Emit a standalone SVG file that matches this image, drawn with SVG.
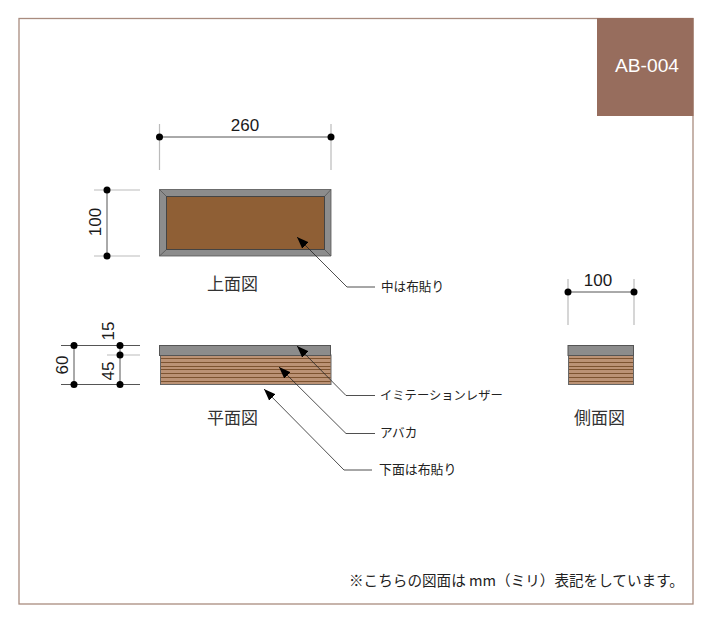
<svg xmlns="http://www.w3.org/2000/svg" width="712" height="622" viewBox="0 0 712 622">
<style>
.l{font-family:"Liberation Sans",Arial,sans-serif;fill:#1a1a1a}
.j{font-family:"Noto Sans CJK JP","Noto Sans CJK SC",sans-serif;fill:#222}
.d{font-size:17px;text-anchor:middle}
.t{font-size:17px;text-anchor:middle;fill:#333}
.s{font-size:12.600px}
.dim{stroke:#555;stroke-width:1;fill:none}
.ext{stroke:#bbb;stroke-width:1.2;fill:none}
.lead{stroke:#222;stroke-width:.8;fill:none;marker-start:url(#a)}
.dot{fill:#000}
.g{fill:#8c8c8c;stroke:#555;stroke-width:1}
.w{fill:#bb9275;stroke:#666;stroke-width:1}
.st{stroke:#7d5330;stroke-width:1;fill:none}
</style>
<defs>
<marker id="a" viewBox="0 0 12 10" refX="0" refY="5" markerWidth="12" markerHeight="10" markerUnits="userSpaceOnUse" orient="auto"><path d="M12 0.500L12 9.500L0 5Z" fill="#000"/></marker>
</defs>
<rect width="712" height="622" fill="#fff"/>
<rect id="frame" x="19" y="18.500" width="674" height="585.500" fill="none" stroke="#a98c7f" stroke-width="1.300"/>
<g id="tag"><rect x="597" y="18" width="96.500" height="98" fill="#976d5d"/><text class="l" x="647" y="71.500" font-size="19.200" text-anchor="middle" style="fill:#fff">AB-004</text></g>

<g id="top-view">
<rect x="159.500" y="189.500" width="171.500" height="66.500" fill="#8c8c8c"/>
<path d="M159.500 189.500H331V256H159.500ZM159.500 189.500L166.500 196.500M331 189.500L324.500 196.500M159.500 256L166.500 249.500M331 256L324.500 249.500" fill="none" stroke="#555" stroke-width=".8"/>
<rect x="166.500" y="196.500" width="158" height="53" fill="#8f5f35" stroke="#444" stroke-width="1"/>
<text class="j t" x="232.500" y="290">上面図</text>
</g>
<g id="top-dim-260">
<path class="ext" d="M159.500 124V170M331 124V170"/><path class="dim" d="M159.500 137H331"/>
<circle class="dot" cx="159.500" cy="137" r="3.500"/><circle class="dot" cx="331" cy="137" r="3.500"/>
<text class="l d" x="245" y="131">260</text>
</g>
<g id="top-dim-100">
<path class="ext" d="M94 190H140M94 256H140"/><path class="dim" d="M107 190V256"/>
<circle class="dot" cx="107" cy="190" r="3.500"/><circle class="dot" cx="107" cy="256" r="3.500"/>
<text class="l d" transform="translate(101 222) rotate(-90)">100</text>
</g>

<g id="plan-view">
<rect class="w" x="160.500" y="355" width="170.500" height="29.500"/>
<path class="st" d="M161 358.500H330.500M161 362.500H330.500M161 366.500H330.500M161 369.500H330.500M161 373.500H330.500M161 377.500H330.500M161 381.500H330.500"/>
<rect class="g" x="159.500" y="345.500" width="171" height="10"/>
<text class="j t" x="232.500" y="424">平面図</text>
</g>
<g id="plan-dims">
<path class="dim" d="M61 345.500H140M61 384.500H140M74 345.500V384.500M120 345.500V384.500"/><path class="ext" d="M107 355H140"/>
<circle class="dot" cx="74" cy="345.500" r="3.500"/><circle class="dot" cx="74" cy="384.500" r="3.500"/>
<circle class="dot" cx="120" cy="345.500" r="3.500"/><circle class="dot" cx="120" cy="355" r="3.500"/><circle class="dot" cx="120" cy="384.500" r="3.500"/>
<text class="l d" transform="translate(68 365) rotate(-90)">60</text>
<text class="l d" transform="translate(114 331) rotate(-90)">15</text>
<text class="l d" transform="translate(114 371) rotate(-90)">45</text>
</g>

<g id="side-view">
<rect class="w" x="568.500" y="355" width="65" height="29.500"/>
<path class="st" d="M569 358.500H633M569 362.500H633M569 366.500H633M569 369.500H633M569 373.500H633M569 377.500H633M569 381.500H633"/>
<rect class="g" x="568" y="345.500" width="65.500" height="10"/>
<text class="j t" x="599.500" y="424">側面図</text>
</g>
<g id="side-dim-100">
<path class="ext" d="M568 279V325M634 279V325"/><path class="dim" d="M568 292H634"/>
<circle class="dot" cx="568" cy="292" r="3.500"/><circle class="dot" cx="634" cy="292" r="3.500"/>
<text class="l d" x="598" y="286">100</text>
</g>

<g id="connectors">
<path class="lead" d="M297 237L347 287H375"/>
<path class="lead" d="M297 346L346 395.500H375"/>
<path class="lead" d="M279 367L346 433.500H375"/>
<path class="lead" d="M264 389L344 470H372"/>
</g>
<g id="labels">
<text class="j s" x="381" y="290.500">中は布貼り</text>
<text class="j s" x="380" y="399.500" style="font-size:12.300px">イミテーションレザー</text>
<text class="j s" x="380" y="437">アバカ</text>
<text class="j s" x="379" y="474" style="font-size:12.900px">下面は布貼り</text>
</g>
<text id="note" class="j" x="349" y="586" font-size="14.600">※こちらの図面は mm（ミリ）表記をしています。</text>
</svg>
